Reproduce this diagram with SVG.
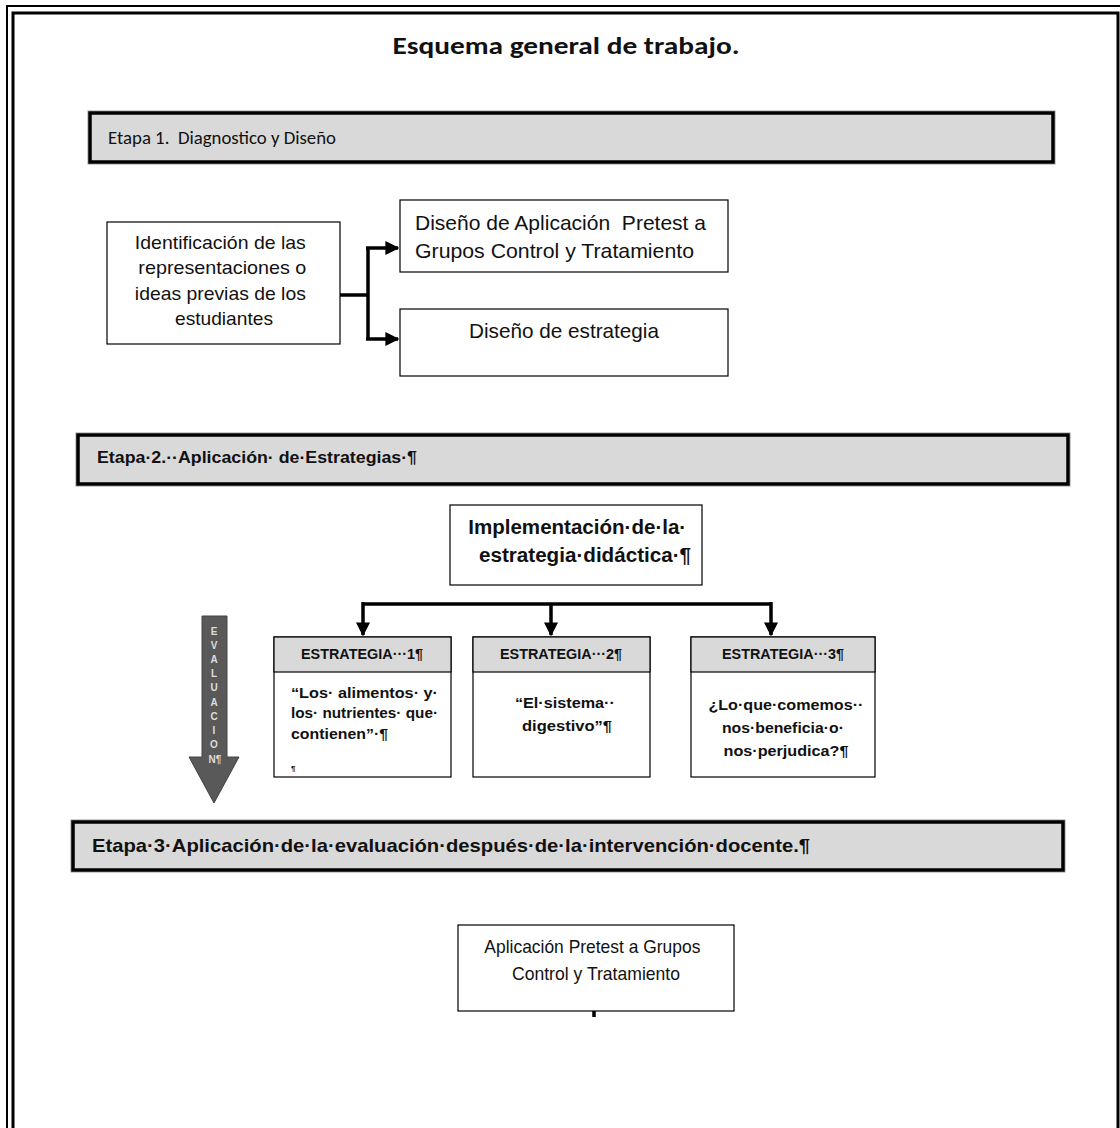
<svg xmlns="http://www.w3.org/2000/svg" width="1120" height="1128" viewBox="0 0 1120 1128">
<style>
.frame{fill:none;stroke:#000}
.bar{fill:#d9d9d9;stroke:#000;stroke-width:3.5}
.barsh{fill:none;stroke:#999;stroke-width:1}
.box{fill:#fff;stroke:#000;stroke-width:1.2}
.hdr{fill:#d9d9d9;stroke:#000;stroke-width:1.2}
.t{font-family:"Liberation Sans",Arial,sans-serif;fill:#111}
.n{font-family:"Liberation Sans Narrow","Liberation Sans",Arial,sans-serif;fill:#111}
.b{font-weight:bold}
.c{font-family:"Carlito","Liberation Sans",sans-serif;fill:#111}
.conn{fill:none;stroke:#000;stroke-width:3.5}
.ev{font-family:"Liberation Sans",Arial,sans-serif;font-weight:bold;font-size:10px;fill:#ddd;text-anchor:middle}
</style>
<defs>
<marker id="ah" viewBox="0 0 10 10" refX="9" refY="5" markerWidth="4" markerHeight="4" markerUnits="strokeWidth" orient="auto">
<path d="M0,0 L10,5 L0,10 z" fill="#000"/>
</marker>
</defs>
<rect width="1120" height="1128" fill="#fff"/>
<g id="frame">
<path class="frame" d="M7,1128 V6 H1120" stroke-width="2"/>
<path class="frame" d="M13,1128 V13 H1118 V1128" stroke-width="3"/>
</g>
<g id="title">
<text class="c b" x="566" y="54" font-size="24" text-anchor="middle" textLength="347" lengthAdjust="spacingAndGlyphs">Esquema general de trabajo.</text>
</g>
<g id="etapa1">
<rect class="barsh" x="88" y="111" width="967" height="53"/>
<rect class="bar" x="90" y="113" width="963" height="49"/>
<text class="c" x="108" y="144" font-size="18" xml:space="preserve" textLength="228" lengthAdjust="spacingAndGlyphs">Etapa 1.  Diagnostico y Diseño</text>
</g>
<g id="identificacion">
<rect class="box" x="107" y="222" width="233" height="122"/>
<text class="n" font-size="19" text-anchor="middle">
<tspan x="223" y="249" textLength="171" lengthAdjust="spacingAndGlyphs">Identificación de las</tspan>
<tspan x="225" y="274" textLength="168" lengthAdjust="spacingAndGlyphs">representaciones o</tspan>
<tspan x="223" y="300" textLength="171" lengthAdjust="spacingAndGlyphs">ideas previas de los</tspan>
<tspan x="224" y="325" textLength="98" lengthAdjust="spacingAndGlyphs">estudiantes</tspan>
</text>
</g>
<g id="diseno-aplicacion">
<rect class="box" x="400" y="200" width="328" height="72"/>
<text class="n" font-size="21" xml:space="preserve"><tspan x="415" y="230" textLength="291" lengthAdjust="spacingAndGlyphs">Diseño de Aplicación  Pretest a</tspan><tspan x="415" y="258" textLength="279" lengthAdjust="spacingAndGlyphs">Grupos Control y Tratamiento</tspan></text>
</g>
<g id="diseno-estrategia">
<rect class="box" x="400" y="309" width="328" height="67"/>
<text class="n" x="564" y="338" font-size="21" text-anchor="middle" textLength="190" lengthAdjust="spacingAndGlyphs">Diseño de estrategia</text>
</g>
<g id="etapa2">
<rect class="barsh" x="76" y="433" width="994" height="53"/>
<rect class="bar" x="78" y="435" width="990" height="49"/>
<text class="t b" x="97" y="463" font-size="17" textLength="320" lengthAdjust="spacingAndGlyphs">Etapa·2.··Aplicación· de·Estrategias·¶</text>
</g>
<g id="implementacion">
<rect class="box" x="450" y="505" width="252" height="80"/>
<text class="n b" font-size="20" text-anchor="middle">
<tspan x="580" y="534" textLength="218" lengthAdjust="spacingAndGlyphs">Implementación·de·la·</tspan>
<tspan x="585" y="562" textLength="212" lengthAdjust="spacingAndGlyphs">estrategia·didáctica·¶</tspan>
</text>
</g>
<g id="evaluacion">
<path d="M202,616 H227 V757 H239 L214,803 L189,757 H202 Z" fill="#595959" stroke="#444" stroke-width="1"/>
<text class="ev" x="214" y="635">E</text>
<text class="ev" x="214" y="649">V</text>
<text class="ev" x="214" y="663">A</text>
<text class="ev" x="214" y="677">L</text>
<text class="ev" x="214" y="691">U</text>
<text class="ev" x="214" y="706">A</text>
<text class="ev" x="214" y="720">C</text>
<text class="ev" x="214" y="734">I</text>
<text class="ev" x="214" y="748">O</text>
<text class="ev" x="215" y="763" font-size="9">N¶</text>
</g>
<g id="estrategia1">
<rect class="box" x="274" y="637" width="177" height="140"/>
<rect class="hdr" x="274" y="637" width="177" height="35"/>
<text class="t b" x="362" y="659" font-size="14" text-anchor="middle" textLength="122" lengthAdjust="spacingAndGlyphs">ESTRATEGIA···1¶</text>
<text class="t b" font-size="15">
<tspan x="291" y="698" textLength="147" lengthAdjust="spacingAndGlyphs">“Los· alimentos· y·</tspan>
<tspan x="291" y="718" textLength="147" lengthAdjust="spacingAndGlyphs">los· nutrientes· que·</tspan>
<tspan x="291" y="739" textLength="97" lengthAdjust="spacingAndGlyphs">contienen”·¶</tspan>
</text>
<text class="t b" x="291" y="771" font-size="8">¶</text>
</g>
<g id="estrategia2">
<rect class="box" x="473" y="637" width="177" height="140"/>
<rect class="hdr" x="473" y="637" width="177" height="35"/>
<text class="t b" x="561" y="659" font-size="14" text-anchor="middle" textLength="122" lengthAdjust="spacingAndGlyphs">ESTRATEGIA···2¶</text>
<text class="t b" font-size="15" text-anchor="middle">
<tspan x="567" y="708" textLength="100" lengthAdjust="spacingAndGlyphs">“El·sistema··</tspan>
<tspan x="567" y="731" textLength="90" lengthAdjust="spacingAndGlyphs">digestivo”¶</tspan>
</text>
</g>
<g id="estrategia3">
<rect class="box" x="691" y="637" width="184" height="140"/>
<rect class="hdr" x="691" y="637" width="184" height="35"/>
<text class="t b" x="783" y="659" font-size="14" text-anchor="middle" textLength="122" lengthAdjust="spacingAndGlyphs">ESTRATEGIA···3¶</text>
<text class="t b" font-size="15" text-anchor="middle">
<tspan x="788" y="710" textLength="155" lengthAdjust="spacingAndGlyphs">¿Lo·que·comemos··</tspan>
<tspan x="785" y="733" textLength="122" lengthAdjust="spacingAndGlyphs">nos·beneficia·o·</tspan>
<tspan x="786" y="756" textLength="125" lengthAdjust="spacingAndGlyphs">nos·perjudica?¶</tspan>
</text>
</g>
<g id="etapa3">
<rect class="barsh" x="71" y="820" width="994" height="52"/>
<rect class="bar" x="73" y="822" width="990" height="48"/>
<text class="t b" x="92" y="852" font-size="19" textLength="718" lengthAdjust="spacingAndGlyphs">Etapa·3·Aplicación·de·la·evaluación·después·de·la·intervención·docente.¶</text>
</g>
<g id="aplicacion-pretest">
<rect class="box" x="458" y="925" width="276" height="86"/>
<text class="n" font-size="19" text-anchor="middle">
<tspan x="595" y="953" textLength="216" lengthAdjust="spacingAndGlyphs">Aplicación Pretest a Grupos</tspan>
<tspan x="596" y="980" textLength="168" lengthAdjust="spacingAndGlyphs">Control y Tratamiento</tspan>
</text>
</g>
<g id="connectors">
<path class="conn" d="M340,295 H368"/>
<path class="conn" d="M368,248 V339"/>
<path class="conn" d="M366,248 H398" marker-end="url(#ah)"/>
<path class="conn" d="M366,339 H398" marker-end="url(#ah)"/>
<path class="conn" d="M363,604 H771"/>
<path class="conn" d="M363,602 V635" marker-end="url(#ah)"/>
<path class="conn" d="M551,604 V635" marker-end="url(#ah)"/>
<path class="conn" d="M771,602 V635" marker-end="url(#ah)"/>
<path class="conn" d="M594,1011 V1017"/>
</g>
</svg>
